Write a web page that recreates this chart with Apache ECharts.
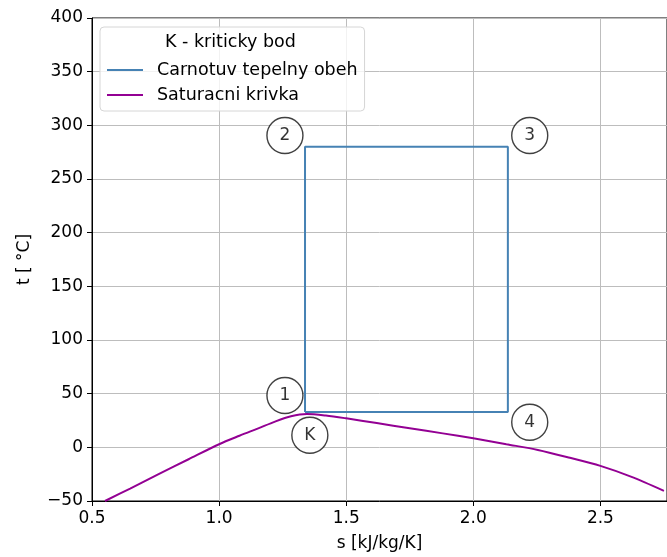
<!DOCTYPE html>
<html><head><meta charset="utf-8">
<script src="https://cdn.jsdelivr.net/npm/echarts@6/dist/echarts.min.js"></script>
<style>html,body{margin:0;padding:0;background:#fff}#c{width:667px;height:557px}</style>
</head><body><div id="c"></div>
<script>
// Carnot cycle corner points 1-2-3-4-1
const carnotS = [1.338, 1.338, 2.136, 2.136, 1.338];
const carnotT = [33, 280, 280, 33, 33];
// Saturation curve
const satS = [0.551, 0.65, 0.762, 0.88, 1.0, 1.08, 1.154, 1.22, 1.283, 1.345, 1.42, 1.5, 1.62, 1.75, 1.88, 2.0, 2.13, 2.254, 2.38, 2.5, 2.62, 2.75];
const satT = [-50, -38.4, -25, -11.1, 2.9, 10.8, 17.7, 24, 28.9, 31.0, 29.6, 27, 22.6, 17.8, 13.0, 8.4, 2.9, -2.4, -9.7, -17.3, -27.3, -40.5];
// Point annotations
const markLabels = ['1', '2', '3', '4', 'K'];
const markS = [1.259, 1.259, 2.222, 2.222, 1.357];
const markT = [48.3, 290.5, 290.5, 23.3, 11.2];
const xTicks = [0.5, 1.0, 1.5, 2.0, 2.5];
const yTicks = [-50, 0, 50, 100, 150, 200, 250, 300, 350, 400];

const FONT = 'DejaVu Sans';
const FS = 17;
const chart = echarts.init(document.getElementById('c'), null, {renderer: 'canvas'});
const zip = (a, b) => a.map((v, i) => [v, b[i]]);
chart.setOption({
  animation: false,
  backgroundColor: '#fff',
  grid: {left: 92, top: 18, width: 578, height: 485, show: true, borderColor: '#000', borderWidth: 1, backgroundColor: 'transparent'},
  xAxis: {
    type: 'value', min: xTicks[0], max: 2.762, interval: 0.5,
    name: 's [kJ/kg/K]', nameLocation: 'middle', nameGap: 34,
    nameTextStyle: {fontFamily: FONT, fontSize: FS, color: '#000'},
    axisLine: {show: true, onZero: false, lineStyle: {color: '#000', width: 1}},
    axisTick: {show: true, length: 5, lineStyle: {color: '#000'}},
    axisLabel: {fontFamily: FONT, fontSize: FS, color: '#000', margin: 9, showMaxLabel: false,
      formatter: v => xTicks.some(t => Math.abs(t - v) < 1e-6) ? v.toFixed(1) : ''},
    splitLine: {show: true, lineStyle: {color: '#bdbdbd', width: 1}}
  },
  yAxis: {
    type: 'value', min: yTicks[0], max: yTicks[yTicks.length - 1], interval: 50,
    name: 't [ °C]', nameLocation: 'middle', nameGap: 59, nameRotate: 90,
    nameTextStyle: {fontFamily: FONT, fontSize: FS, color: '#000'},
    axisLine: {show: true, onZero: false, lineStyle: {color: '#000', width: 1}},
    axisTick: {show: true, length: 5, lineStyle: {color: '#000'}},
    axisLabel: {fontFamily: FONT, fontSize: FS, color: '#000', margin: 9,
      formatter: v => String(v).replace('-', '\u2212')},
    splitLine: {show: true, lineStyle: {color: '#bdbdbd', width: 1}}
  },
  legend: {
    orient: 'vertical', left: 100, top: 27,
    padding: [33, 7, 6, 7], itemGap: 5,
    itemWidth: 36, itemHeight: 2, icon: 'rect',
    backgroundColor: 'rgba(255,255,255,0.8)', borderColor: '#d6d6d6', borderWidth: 1, borderRadius: 4,
    textStyle: {fontFamily: FONT, fontSize: 17.5, lineHeight: 20, color: '#000', padding: [0, 0, 0, 9]},
    data: ['Carnotuv tepelny obeh', 'Saturacni krivka']
  },
  graphic: [{
    type: 'text', left: 165, top: 33, z: 100,
    style: {text: 'K - kriticky bod', font: '17.5px "DejaVu Sans"', fill: '#000'}
  }],
  series: [
    {name: 'Carnotuv tepelny obeh', type: 'line', data: zip(carnotS, carnotT), showSymbol: false,
     lineStyle: {color: '#4682b4', width: 2}, itemStyle: {color: '#4682b4'}, z: 3},
    {name: 'Saturacni krivka', type: 'line', data: zip(satS, satT), showSymbol: false, smooth: 0.3,
     lineStyle: {color: '#930093', width: 2}, itemStyle: {color: '#930093'}, z: 3},
    {name: 'marks', type: 'scatter', symbol: 'circle', symbolSize: 36, z: 5,
     data: markS.map((s, i) => ({value: [s, markT[i]], label: {formatter: markLabels[i]}})),
     itemStyle: {color: '#fff', borderColor: '#111', borderWidth: 1.4},
     label: {show: true, position: 'inside', fontFamily: FONT, fontSize: FS, color: '#000'}}
  ]
});
</script></body></html>
